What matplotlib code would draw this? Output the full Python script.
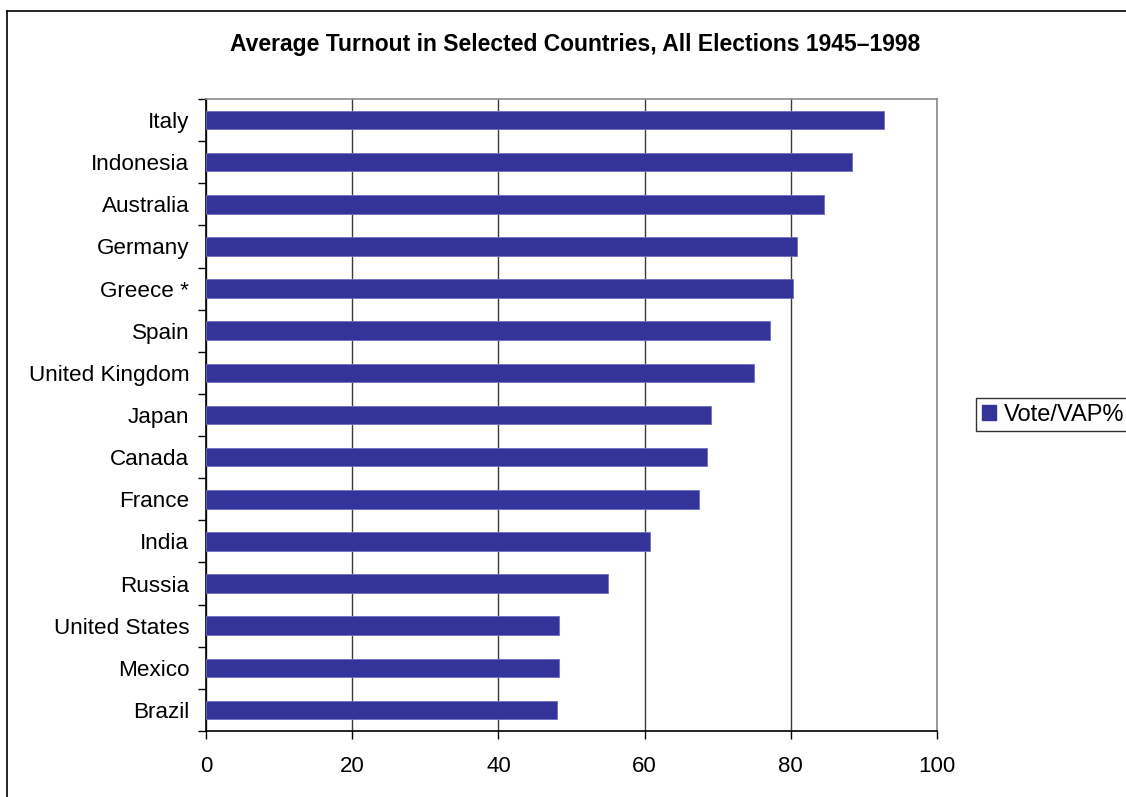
import numpy as np
import matplotlib.pyplot as plt
from matplotlib.lines import Line2D
from matplotlib.patches import Patch

plt.rcParams['font.family'] = ['Liberation Sans', 'DejaVu Sans']

countries = ['Italy', 'Indonesia', 'Australia', 'Germany', 'Greece *', 'Spain',
             'United Kingdom', 'Japan', 'Canada', 'France', 'India', 'Russia',
             'United States', 'Mexico', 'Brazil']
turnout = [92.7, 88.4, 84.6, 80.8, 80.3, 77.2, 75.0, 69.1, 68.6, 67.4,
           60.7, 55.0, 48.3, 48.3, 48.0]
series_name = 'Vote/VAP%'
bar_color = '#333399'

fig = plt.figure(figsize=(11.26, 7.97), dpi=100)
ax = fig.add_axes([206 / 1126, 1 - 731 / 797, 731 / 1126, 632 / 797])

pos = np.arange(len(countries))
ax.barh(pos, turnout, height=0.44, color=bar_color, edgecolor='#6f6fc0',
        linewidth=0.6, zorder=3)
ax.set_ylim(len(countries) - 0.5, -0.5)
ax.set_xlim(0, 100)

# category ticks sit between bars, labels centred on bars
ax.set_yticks(np.arange(len(countries) + 1) - 0.5)
ax.set_yticklabels([])
ax.set_yticks(pos, minor=True)
ax.set_yticklabels(countries, minor=True, fontsize=16.2)
ax.tick_params(axis='y', which='major', direction='out', length=6, width=1)
ax.tick_params(axis='y', which='minor', length=0, pad=12)

ax.set_xticks(np.arange(0, 101, 20))
ax.tick_params(axis='x', direction='out', length=6, width=1, labelsize=16, pad=12)
ax.grid(axis='x', color='#3a3a3a', linewidth=1, zorder=0)

for side in ['top', 'right']:
    ax.spines[side].set_color('#8c8c8c')
    ax.spines[side].set_linewidth(1.2)
for side in ['left', 'bottom']:
    ax.spines[side].set_color('black')
    ax.spines[side].set_linewidth(1.2)

fig.text(575 / 1126, 1 - 45 / 797,
         'Average Turnout in Selected Countries, All Elections 1945\u20131998',
         ha='center', va='center', fontsize=16.5, fontweight='bold')

# chart frame
x0, ytop = 7 / 1126, 1 - 10.5 / 797
fig.add_artist(Line2D([x0, 1.01], [ytop, ytop], color='black', linewidth=1.2))
fig.add_artist(Line2D([x0, x0], [ytop, -0.01], color='black', linewidth=1.2))

leg = fig.legend(handles=[Patch(facecolor=bar_color, edgecolor=bar_color, label=series_name)],
                 loc='center left', bbox_to_anchor=(976 / 1126, 1 - 414.5 / 797),
                 fontsize=17, frameon=True, fancybox=False, handlelength=0.6,
                 handleheight=0.6, handletextpad=0.35, borderpad=0.25,
                 borderaxespad=0)
leg.get_frame().set_edgecolor('black')
leg.get_frame().set_linewidth(1.0)

fig.savefig('out.png', dpi=100)
